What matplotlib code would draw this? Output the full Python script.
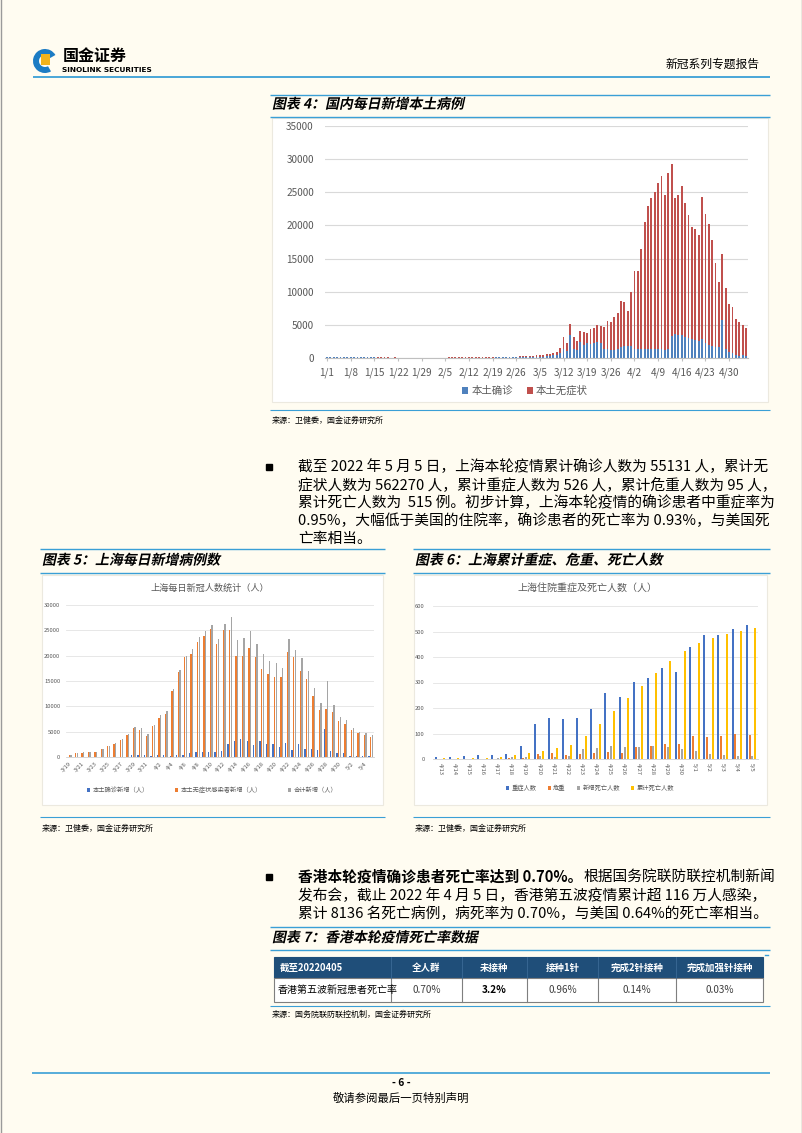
import numpy as np
import pandas as pd
import matplotlib
matplotlib.use("Agg")
import matplotlib.pyplot as plt
from matplotlib.patches import Rectangle, PathPatch, Wedge
from matplotlib.textpath import TextPath
from matplotlib.font_manager import FontProperties
from matplotlib.transforms import Affine2D

plt.rcParams['font.family'] = ['Noto Sans CJK SC', 'DejaVu Sans']
plt.rcParams['axes.unicode_minus'] = False

W, H = 802, 1133
BG = '#fffcf1'
LINE = '#3a9fd6'
GRAY_TXT = '#595959'

# ---------------- 图表4 数据：国内每日新增本土 ----------------
cn_days = pd.date_range('2022-01-01', '2022-05-05')
cn_confirmed = [150, 140, 160, 130, 110, 100, 80, 100, 120, 130, 120, 110, 100, 100, 80, 70, 60, 50, 50, 40,
                50, 40, 40, 40, 30, 30, 30, 30, 40, 30, 30,
                30, 20, 20, 30, 30, 40, 40, 50, 50, 40, 50, 50, 40, 50, 60, 50, 60, 70, 70, 80,
                90, 80, 80, 100, 110, 100, 110, 110,
                100, 120, 150, 170, 200, 210, 230, 250, 400, 400, 700, 1400, 1100, 3400, 1400, 1200,
                2400, 1900, 2200, 2100, 2300, 2400, 2200, 1400, 1300, 1200, 1250, 1300, 1600, 1800, 1800,
                1800, 1400, 1400, 1300, 1400, 1350, 1400, 1400, 1400, 1300, 1250, 1300, 3300, 3600, 3500,
                3400, 3200, 3000, 2800, 2700, 2600, 2900, 2300, 2000, 1800, 1700, 1600, 5700, 1300, 900,
                800, 400, 350, 400, 300]
cn_asym = [50, 50, 50, 50, 50, 50, 40, 50, 50, 60, 60, 60, 60, 50, 40, 40, 40, 40, 30, 30,
           30, 30, 20, 30, 30, 30, 20, 30, 30, 20, 30,
           30, 30, 30, 30, 40, 40, 50, 50, 60, 50, 50, 60, 50, 60, 60, 50, 70, 80, 70, 80,
           90, 90, 80, 100, 110, 110, 120, 130,
           150, 180, 200, 230, 250, 290, 320, 350, 400, 500, 800, 1700, 1100, 1800, 1800, 1300,
           1650, 1950, 1600, 2200, 2300, 2600, 2600, 3300, 4300, 4300, 4950, 5500, 7000, 6700, 5300,
           8200, 11700, 11700, 15200, 19100, 21550, 22700, 23600, 25000, 26100, 23350, 26600, 26000,
           20600, 21100, 22600, 20200, 18500, 17000, 16700, 15900, 21400, 19400, 18200, 16000,
           12600, 9800, 10000, 9300, 7300,
           6900, 5500, 5050, 4600, 4300]

# ---------------- 图表5 数据：上海每日新增 ----------------
sh_days = pd.date_range('2022-03-19', '2022-05-05')
sh_confirmed = [17, 24, 31, 4, 4, 29, 38, 45, 50, 96, 326, 355, 358, 260, 438, 425, 268, 311, 322, 824,
                1015, 1006, 914, 994, 1189, 2573, 3200, 3590, 3238, 2417, 3084, 2494, 2634, 1931, 2736,
                1401, 2472, 1661, 1606, 1292, 5487, 1249, 788, 727, 274, 260, 261, 245]
sh_asym = [366, 734, 865, 977, 979, 1580, 2231, 2631, 3450, 4381, 5656, 5298, 4144, 6051, 7788, 8581,
           13086, 16766, 19660, 20398, 22609, 23937, 25173, 22348, 25141, 25146, 19872, 19923, 21582,
           19831, 17332, 16407, 15861, 15698, 20634, 19657, 16983, 15319, 11956, 9330, 9545, 8932,
           7084, 6606, 5395, 4722, 4390, 4024]
sh_total = [383, 758, 896, 981, 983, 1609, 2269, 2676, 3500, 4477, 5982, 5653, 4502, 6311, 8226, 9006,
            13354, 17077, 19982, 21222, 23624, 24943, 26087, 23342, 26330, 27719, 23072, 23513, 24820,
            22248, 20416, 18901, 18495, 17629, 23370, 21058, 19455, 16980, 13562, 10622, 15032, 10181,
            7872, 7333, 5669, 4982, 4651, 4269]

# ---------------- 图表6 数据：上海重症、危重、死亡 ----------------
sv_days = pd.date_range('2022-04-13', '2022-05-05')
severe = [8, 8, 11, 15, 16, 20, 52, 138, 160, 155, 160, 196, 258, 243, 303, 317, 355, 341, 440, 487, 485, 511, 526]
critical = [0, 0, 0, 0, 1, 3, 5, 20, 24, 16, 18, 22, 28, 25, 47, 52, 57, 60, 92, 88, 92, 98, 95]
new_death = [0, 0, 0, 0, 3, 7, 7, 11, 8, 11, 38, 44, 52, 48, 47, 52, 47, 38, 32, 20, 16, 13, 12]
cum_death = [4, 4, 5, 5, 8, 17, 25, 31, 43, 55, 92, 138, 190, 238, 285, 337, 384, 422, 454, 474, 490, 503, 515]

# ---------------- 图表7 表格 ----------------
tbl_header = ['截至20220405', '全人群', '未接种', '接种1针', '完成2针接种', '完成加强针接种']
tbl_row = ['香港第五波新冠患者死亡率', '0.70%', '3.2%', '0.96%', '0.14%', '0.03%']

fig = plt.figure(figsize=(W / 100, H / 100), dpi=100, facecolor=BG)
page = fig.add_axes([0, 0, 1, 1])
page.set_xlim(0, W)
page.set_ylim(H, 0)
page.axis('off')


def box(x0, y0, x1, y1):
    a = fig.add_axes([x0 / W, 1 - y1 / H, (x1 - x0) / W, (y1 - y0) / H])
    a.set_facecolor('none')
    return a


def hline(y, x0, x1, color=LINE, lw=1.0):
    page.plot([x0, x1], [y, y], color=color, lw=lw, solid_capstyle='butt')


def ititle(x, y, s, size=10.0):
    # 粗斜体标题（用路径做倾斜）
    fp = FontProperties(family='Noto Sans CJK SC', weight='bold')
    tp = TextPath((0, 0), s, size=size, prop=fp)
    k = 100 / 72
    tr = Affine2D().skew_deg(12, 0).scale(k, -k).translate(x, y)
    page.add_patch(PathPatch(tr.transform_path(tp), fc='black', ec='none', lw=0))


def txt(x, y, s, size=10.3, **kw):
    return page.text(x, y, s, fontsize=size, va='center', **kw)


# 页面边框
page.plot([0.5, 0.5], [0, H], color='#9a9a9a', lw=1)
page.plot([W - 0.5, W - 0.5], [0, H], color='#9a9a9a', lw=1)

# ---------------- 页眉 ----------------
page.add_patch(Wedge((45, 61), 12, 60, 330, width=6, fc='#1c7cc4', ec='none'))
page.add_patch(Rectangle((41, 54), 9, 11, fc='#f3b31b', ec='none'))
txt(63, 56, '国金证券', size=11.5, fontweight='bold')
txt(62, 70, 'SINOLINK SECURITIES', size=5.3, fontweight='bold', family='DejaVu Sans')
txt(760, 64, '新冠系列专题报告', size=8.5, ha='right')
hline(77, 33, 770, lw=1.3)

# ---------------- 图表4 ----------------
hline(95, 270, 770)
ititle(272, 108.5, '图表 4：国内每日新增本土病例', size=10)
hline(117, 270, 770)
page.add_patch(Rectangle((272, 118), 496, 284, fc='white', ec='#ece9df', lw=0.8))

ax4 = box(325, 126, 748, 358)
x4 = np.arange(len(cn_days))
ax4.bar(x4, cn_confirmed, width=0.55, color='#4f81bd', label='本土确诊')
ax4.bar(x4, cn_asym, width=0.55, bottom=cn_confirmed, color='#c0504d', label='本土无症状')
ax4.set_xlim(-0.6, len(x4) - 0.4)
ax4.set_ylim(0, 35000)
ax4.set_yticks(range(0, 35001, 5000))
ax4.set_xticks(x4[::7])
ax4.set_xticklabels([f'{d.month}/{d.day}' for d in cn_days[::7]])
ax4.grid(axis='y', color='#d9d9d9', lw=0.8)
ax4.set_axisbelow(True)
for s in ['top', 'right', 'left']:
    ax4.spines[s].set_visible(False)
ax4.spines['bottom'].set_color('#bfbfbf')
ax4.tick_params(axis='x', length=2, color='#bfbfbf', pad=5, labelsize=7.2, labelcolor=GRAY_TXT)
ax4.tick_params(axis='y', length=0, pad=8, labelsize=7.2, labelcolor=GRAY_TXT)
ax4.legend(loc='center', bbox_to_anchor=(525 / W, 1 - 391 / H), bbox_transform=fig.transFigure,
           ncol=2, frameon=False, fontsize=7.5, handlelength=0.6, handleheight=0.6,
           handletextpad=0.3, columnspacing=1.3, labelcolor=GRAY_TXT)

hline(410, 270, 770, lw=0.8)
txt(272, 420, '来源：卫健委，国金证券研究所', size=5.8)

# ---------------- 正文1 ----------------
page.plot([269], [467], marker='s', ms=5, color='black')
body1 = ['截至 2022 年 5 月 5 日，上海本轮疫情累计确诊人数为 55131 人，累计无',
         '症状人数为 562270 人，累计重症人数为 526 人，累计危重人数为 95 人，',
         '累计死亡人数为  515 例。初步计算，上海本轮疫情的确诊患者中重症率为',
         '0.95%，大幅低于美国的住院率，确诊患者的死亡率为 0.93%，与美国死',
         '亡率相当。']
for i, line in enumerate(body1):
    txt(298, 467 + i * 18, line, size=10.6)

# ---------------- 图表5 / 图表6 标题 ----------------
hline(549, 40, 385)
hline(549, 413, 770)
ititle(42, 564.5, '图表 5：上海每日新增病例数', size=10)
ititle(415, 564.5, '图表 6：上海累计重症、危重、死亡人数', size=10)
hline(573, 40, 385)
hline(573, 413, 770)
page.add_patch(Rectangle((42, 575), 341, 230, fc='white', ec='#ece9df', lw=0.8))
page.add_patch(Rectangle((414, 575), 353, 230, fc='white', ec='#ece9df', lw=0.8))

# 图表5
txt(210, 588, '上海每日新冠人数统计（人）', size=6.6, ha='center', color=GRAY_TXT)
ax5 = box(66, 605, 374, 757)
x5 = np.arange(len(sh_days))
ax5.bar(x5 - 0.26, sh_confirmed, width=0.2, color='#4472c4', label='本土确诊新增（人）')
ax5.bar(x5, sh_asym, width=0.2, color='#ed7d31', label='本土无症状感染者新增（人）')
ax5.bar(x5 + 0.26, sh_total, width=0.2, color='#a5a5a5', label='合计新增（人）')
ax5.set_xlim(-0.5, len(x5) - 0.5)
ax5.set_ylim(0, 30000)
ax5.set_yticks(range(0, 30001, 5000))
ax5.set_xticks(x5[::2])
ax5.set_xticklabels([f'{d.month}/{d.day}' for d in sh_days[::2]], rotation=45, ha='right', va='top',
                    rotation_mode='anchor')
ax5.grid(axis='y', color='#e3e3e3', lw=0.6)
ax5.set_axisbelow(True)
for s in ['top', 'right', 'left']:
    ax5.spines[s].set_visible(False)
ax5.spines['bottom'].set_color('#d0d0d0')
ax5.spines['bottom'].set_linewidth(0.6)
ax5.tick_params(axis='x', length=0, pad=3, labelsize=4.2, labelcolor=GRAY_TXT)
ax5.tick_params(axis='y', length=0, pad=4, labelsize=4.2, labelcolor=GRAY_TXT)
ax5.legend(loc='center', bbox_to_anchor=(212 / W, 1 - 790 / H), bbox_transform=fig.transFigure,
           ncol=3, frameon=False, fontsize=4.5, handlelength=0.5, handleheight=0.5,
           handletextpad=0.4, columnspacing=4.2, labelcolor=GRAY_TXT)

# 图表6
txt(587, 588, '上海住院重症及死亡人数（人）', size=7.2, ha='center', color=GRAY_TXT)
ax6 = box(433, 606, 758, 759)
x6 = np.arange(len(sv_days))
ax6.bar(x6 - 0.3, severe, width=0.14, color='#4472c4', label='重症人数')
ax6.bar(x6 - 0.1, critical, width=0.14, color='#ed7d31', label='危重')
ax6.bar(x6 + 0.1, new_death, width=0.14, color='#a5a5a5', label='新增死亡人数')
ax6.bar(x6 + 0.3, cum_death, width=0.14, color='#ffc000', label='累计死亡人数')
ax6.set_xlim(-0.5, len(x6) - 0.5)
ax6.set_ylim(0, 600)
ax6.set_yticks(range(0, 601, 100))
ax6.set_xticks(x6)
ax6.set_xticklabels([f'{d.month}/{d.day}' for d in sv_days], rotation=-90, ha='center', va='top')
ax6.grid(axis='y', color='#e3e3e3', lw=0.6)
ax6.set_axisbelow(True)
for s in ['top', 'right', 'left']:
    ax6.spines[s].set_visible(False)
ax6.spines['bottom'].set_color('#d0d0d0')
ax6.spines['bottom'].set_linewidth(0.6)
ax6.tick_params(axis='x', length=0, pad=3, labelsize=4.2, labelcolor=GRAY_TXT)
ax6.tick_params(axis='y', length=0, pad=6, labelsize=4.2, labelcolor=GRAY_TXT)
ax6.legend(loc='center', bbox_to_anchor=(590 / W, 1 - 788 / H), bbox_transform=fig.transFigure,
           ncol=4, frameon=False, fontsize=4.5, handlelength=0.5, handleheight=0.5,
           handletextpad=0.4, columnspacing=1.8, labelcolor=GRAY_TXT)

hline(817, 40, 385, lw=0.8)
hline(817, 413, 770, lw=0.8)
txt(42, 828, '来源：卫健委，国金证券研究所', size=5.8)
txt(415, 828, '来源：卫健委，国金证券研究所', size=5.8)

# ---------------- 正文2 ----------------
page.plot([269], [877], marker='s', ms=5, color='black')
t_b = txt(298, 877, '香港本轮疫情确诊患者死亡率达到 0.70%。', size=10.6, fontweight='bold')
fig.canvas.draw()
xb = t_b.get_window_extent().x1
txt(xb + 1, 877, '根据国务院联防联控机制新闻', size=10.6)
txt(298, 895.5, '发布会，截止 2022 年 4 月 5 日，香港第五波疫情累计超 116 万人感染，', size=10.6)
txt(298, 914, '累计 8136 名死亡病例，病死率为 0.70%，与美国 0.64%的死亡率相当。', size=10.6)

# ---------------- 图表7 ----------------
hline(927, 270, 770)
ititle(272, 942, '图表 7：香港本轮疫情死亡率数据', size=10)
hline(950, 270, 770)
page.plot([765, 768], [955, 955], color=LINE, lw=1)

edges = [274, 391, 462, 527, 598, 676, 763]
y_h0, y_h1, y_d1 = 957, 978, 1002
page.add_patch(Rectangle((edges[0], y_h0), edges[-1] - edges[0], y_h1 - y_h0, fc='#1f4e79', ec='#1f4e79', lw=0.8))
page.add_patch(Rectangle((edges[0], y_h1), edges[-1] - edges[0], y_d1 - y_h1, fc='white', ec='#7f7f7f', lw=0.8))
for e in edges[1:-1]:
    page.plot([e, e], [y_h1, y_d1], color='#7f7f7f', lw=0.8)
    page.plot([e, e], [y_h0, y_h1], color='#3b6a96', lw=0.6)
for i in range(6):
    cx = edges[0] + 6 if i == 0 else (edges[i] + edges[i + 1]) / 2
    ha = 'left' if i == 0 else 'center'
    txt(cx, (y_h0 + y_h1) / 2, tbl_header[i], size=6.8, ha=ha, color='white', fontweight='bold')
    bold = tbl_row[i] == '3.2%'
    txt(cx if i else edges[0] + 4, (y_h1 + y_d1) / 2, tbl_row[i], size=7.2, ha=ha,
        color='black' if (bold or i == 0) else '#404040', fontweight='bold' if bold else 'normal')

hline(1006, 270, 770, lw=0.8)
txt(272, 1014, '来源：国务院联防联控机制，国金证券研究所', size=5.8)

# ---------------- 页脚 ----------------
hline(1073, 32, 770, lw=1.2)
txt(401, 1083, '- 6 -', size=7.5, ha='center', fontweight='bold')
txt(401, 1098, '敬请参阅最后一页特别声明', size=8.2, ha='center')

fig.savefig('out.png', dpi=100, facecolor=BG)
